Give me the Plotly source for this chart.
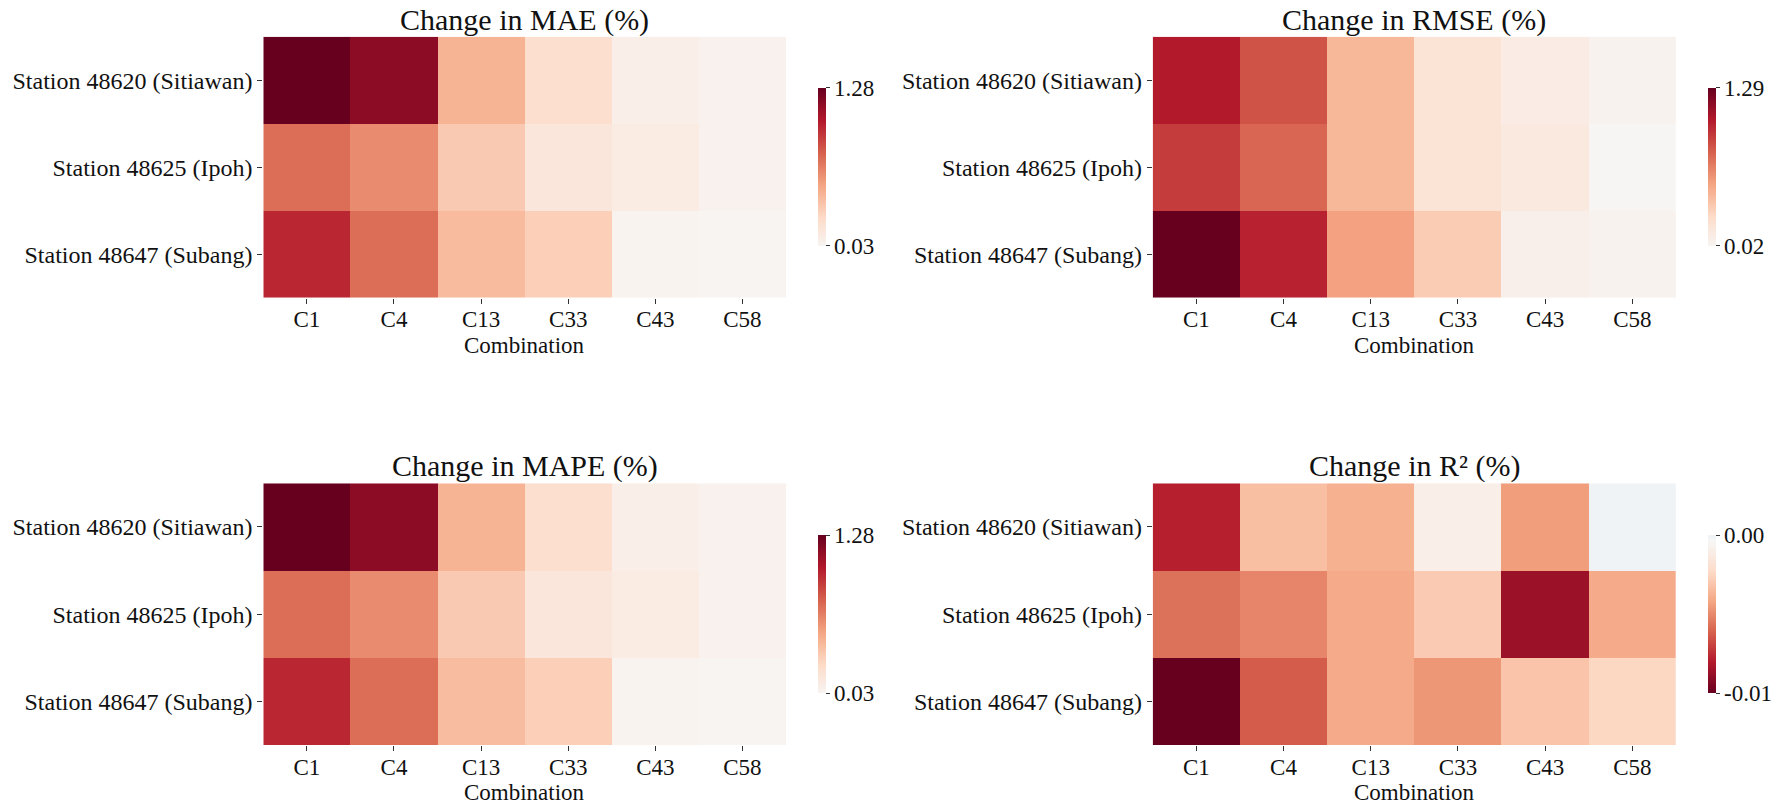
import plotly.graph_objects as go

stations = ["Station 48620 (Sitiawan)", "Station 48625 (Ipoh)", "Station 48647 (Subang)"]
combos = ["C1", "C4", "C13", "C33", "C43", "C58"]

mae = [
    [1.28, 1.15, 0.44, 0.22, 0.08, 0.05],
    [0.72, 0.61, 0.34, 0.15, 0.11, 0.05],
    [0.97, 0.72, 0.41, 0.31, 0.04, 0.03],
]
rmse = [
    [1.03, 0.82, 0.43, 0.18, 0.10, 0.04],
    [0.90, 0.75, 0.43, 0.18, 0.13, 0.02],
    [1.29, 1.00, 0.53, 0.33, 0.07, 0.04],
]
mape = [
    [1.28, 1.15, 0.44, 0.22, 0.08, 0.05],
    [0.72, 0.61, 0.34, 0.15, 0.11, 0.05],
    [0.97, 0.72, 0.40, 0.31, 0.04, 0.03],
]
r2 = [
    [-0.0074, -0.0029, -0.0034, -0.0006, -0.0040, 0.0004],
    [-0.0052, -0.0047, -0.0036, -0.0025, -0.0082, -0.0036],
    [-0.0095, -0.0058, -0.0036, -0.0042, -0.0027, -0.0020],
]
titles = ["Change in MAE (%)", "Change in RMSE (%)", "Change in MAPE (%)", "Change in R² (%)"]
xlabel = "Combination"

# matplotlib RdBu (ColorBrewer 11)
RDBU = ["#67001f", "#b2182b", "#d6604d", "#f4a582", "#fddbc7", "#f7f7f7",
        "#d1e5f0", "#92c5de", "#4393c3", "#2166ac", "#053061"]


def hex2rgb(h):
    h = h.lstrip("#")
    return tuple(int(h[i:i + 2], 16) for i in (0, 2, 4))


def cmap(p, colors):
    p = min(max(p, 0.0), 1.0)
    n = len(colors) - 1
    f = p * n
    i = min(int(f), n - 1)
    t = f - i
    a, b = hex2rgb(colors[i]), hex2rgb(colors[i + 1])
    c = [round(a[k] + (b[k] - a[k]) * t) for k in range(3)]
    return f"rgb({c[0]},{c[1]},{c[2]})"


def centered_scale(data, colors, center=0.0, n=41):
    flat = [v for row in data for v in row]
    vmin, vmax = min(flat), max(flat)
    vr = max(vmax - center, center - vmin)
    cmin = (vmin - (center - vr)) / (2 * vr)
    cmax = (vmax - (center - vr)) / (2 * vr)
    scale = []
    for k in range(n):
        t = k / (n - 1)
        scale.append([t, cmap(cmin + (cmax - cmin) * t, colors)])
    return scale, vmin, vmax


FONT = "Liberation Serif, Times New Roman, serif"
W, H = 1787, 806

# pixel layout
xdoms = [(263.3, 786.0), (1152.7, 1676.0)]
ydoms = [(36.7, 297.7), (483.3, 745.0)]
cbx = [818.3, 1708.3]
cby = [(87.7, 245.7), (535.0, 693.3)]
xlab_mid = [346.0, 792.5]

panels = [(mae, RDBU[::-1]), (rmse, RDBU[::-1]), (mape, RDBU[::-1]), (r2, RDBU)]

fig = go.Figure()
annotations = []
for idx, (data, cols) in enumerate(panels):
    r, c = divmod(idx, 2)
    scale, vmin, vmax = centered_scale(data, cols)
    xa = "x" if idx == 0 else f"x{idx + 1}"
    ya = "y" if idx == 0 else f"y{idx + 1}"
    cy0, cy1 = cby[r]
    fig.add_trace(go.Heatmap(
        z=data, x=combos, y=stations, xaxis=xa, yaxis=ya,
        colorscale=scale, zmin=vmin, zmax=vmax, xgap=0, ygap=0,
        hoverinfo="skip",
        colorbar=dict(
            x=cbx[c] / W, xanchor="left", xpad=0, ypad=0,
            y=1 - (cy0 + cy1) / 2 / H, yanchor="middle",
            len=(cy1 - cy0) / H, lenmode="fraction", thickness=8,
            outlinewidth=0, ticks="outside", ticklen=4, tickwidth=1,
            tickcolor="#333333",
            tickvals=[vmin, vmax], ticktext=[f"{vmin:.2f}", f"{vmax:.2f}"],
            tickfont=dict(family=FONT, size=23, color="#111111"),
        ),
    ))
    x0, x1 = xdoms[c]
    y0, y1 = ydoms[r]
    lay_x = "xaxis" if idx == 0 else f"xaxis{idx + 1}"
    lay_y = "yaxis" if idx == 0 else f"yaxis{idx + 1}"
    fig.update_layout(**{
        lay_x: dict(domain=[x0 / W, x1 / W], anchor=ya, showgrid=False, zeroline=False,
                    showline=False, ticks="outside", ticklen=5, tickcolor="#333333",
                    ticklabelstandoff=-4,
                    tickfont=dict(family=FONT, size=23, color="#111111")),
        lay_y: dict(domain=[1 - y1 / H, 1 - y0 / H], anchor=xa, autorange="reversed",
                    showgrid=False, zeroline=False, showline=False, ticks="outside",
                    ticklen=5, tickcolor="#333333",
                    tickfont=dict(family=FONT, size=24, color="#111111")),
    })
    annotations.append(dict(
        text=titles[idx], x=(x0 + x1) / 2 / W, y=1 - y0 / H, xref="paper", yref="paper",
        xanchor="center", yanchor="bottom", yshift=-2, showarrow=False,
        font=dict(family=FONT, size=30, color="#111111"),
    ))
    annotations.append(dict(
        text=xlabel, x=(x0 + x1) / 2 / W, y=1 - xlab_mid[r] / H, xref="paper", yref="paper",
        xanchor="center", yanchor="middle", showarrow=False, borderpad=0,
        font=dict(family=FONT, size=23, color="#111111"),
    ))

fig.update_layout(
    width=W, height=H, margin=dict(l=0, r=0, t=0, b=0),
    paper_bgcolor="white", plot_bgcolor="white",
    annotations=annotations, showlegend=False,
)

fig.write_html("out.html")
